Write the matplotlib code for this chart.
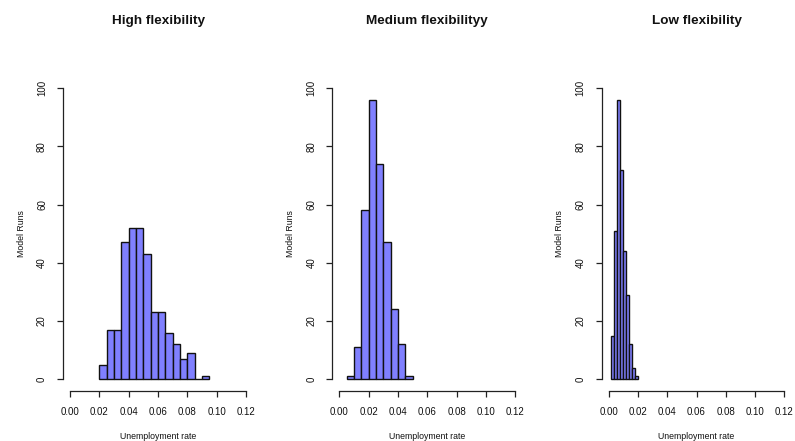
import matplotlib
matplotlib.use("Agg")
import matplotlib.pyplot as plt

plt.rcParams["font.family"] = ["Liberation Sans", "DejaVu Sans"]

# Histogram counts of unemployment rate across model runs
titles = ["High flexibility", "Medium flexibilityy", "Low flexibility"]

high_edges = [0.020, 0.025, 0.030, 0.035, 0.040, 0.045, 0.050, 0.055,
              0.060, 0.065, 0.070, 0.075, 0.080, 0.085, 0.090, 0.095]
high_counts = [5, 17, 17, 47, 52, 52, 43, 23, 23, 16, 12, 7, 9, 0, 1]

medium_edges = [0.005, 0.010, 0.015, 0.020, 0.025, 0.030, 0.035, 0.040,
                0.045, 0.050]
medium_counts = [1, 11, 58, 96, 74, 47, 24, 12, 1]

low_edges = [0.002, 0.004, 0.006, 0.008, 0.010, 0.012, 0.014, 0.016,
             0.018, 0.020]
low_counts = [15, 51, 96, 72, 44, 29, 12, 4, 1]

x_ticks = [0.00, 0.02, 0.04, 0.06, 0.08, 0.10, 0.12]
y_ticks = [0, 20, 40, 60, 80, 100]

W, H = 795, 441
fig = plt.figure(figsize=(W / 100, H / 100), dpi=100)

panel_left_px = [63, 332.3, 601.5]
panel_w_px = 190
panel_top_px = 76.4
panel_bot_px = 391

data = [(high_edges, high_counts), (medium_edges, medium_counts),
        (low_edges, low_counts)]

fill = "#8080ff"
fs_tick = 7.0
fs_lab = 6.3
ink = "#111111"

for i, (edges, counts) in enumerate(data):
    ax = fig.add_axes([panel_left_px[i] / W, 1 - panel_bot_px / H,
                       panel_w_px / W, (panel_bot_px - panel_top_px) / H])
    widths = [edges[k + 1] - edges[k] for k in range(len(counts))]
    ax.bar(edges[:-1], counts, width=widths, align="edge",
           color=fill, edgecolor=ink, linewidth=1.0)
    ax.set_xlim(-0.0048, 0.1248)
    ax.set_ylim(-4, 104)
    for s in ("top", "right"):
        ax.spines[s].set_visible(False)
    ax.spines["left"].set_bounds(0, 100)
    ax.spines["bottom"].set_bounds(0, 0.12)
    for s in ("left", "bottom"):
        ax.spines[s].set_linewidth(0.9)
        ax.spines[s].set_color("#222222")
    ax.set_xticks(x_ticks)
    ax.set_xticklabels([f"{v:.2f}" for v in x_ticks])
    ax.set_yticks(y_ticks)
    ax.set_yticklabels([str(v) for v in y_ticks], rotation=90, va="center")
    ax.tick_params(direction="out", length=4.3, width=0.9, color="#222222",
                   labelsize=fs_tick, labelcolor=ink)
    ax.tick_params(axis="x", pad=7.2)
    ax.tick_params(axis="y", pad=7.2)
    ax.set_xlabel("Unemployment rate", fontsize=fs_lab, labelpad=11,
                  color=ink)
    ax.set_ylabel("Model Runs", fontsize=fs_lab, labelpad=8, color=ink)
    ax.set_title(titles[i], fontsize=9.7, fontweight="bold", pad=38,
                 color=ink)
    ax.patch.set_visible(False)

fig.savefig("out.png", dpi=100)
